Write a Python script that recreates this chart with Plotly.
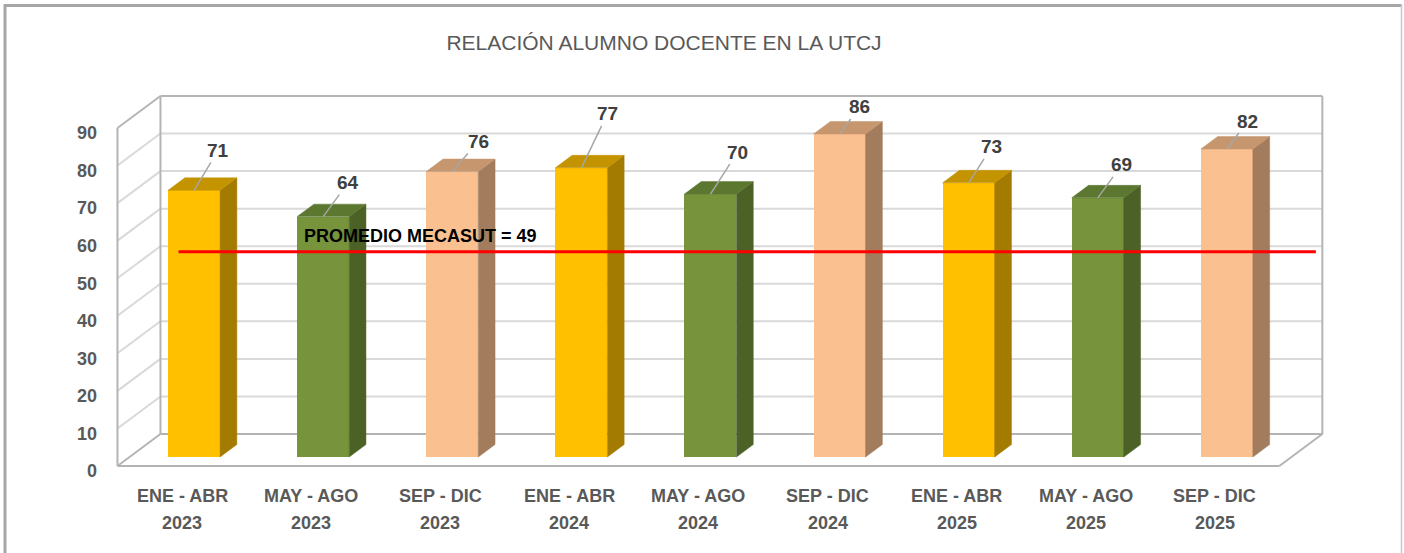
import plotly.graph_objects as go

# ---------------- data ----------------
PERIODS = ["ENE - ABR", "MAY - AGO", "SEP - DIC", "ENE - ABR", "MAY - AGO", "SEP - DIC",
           "ENE - ABR", "MAY - AGO", "SEP - DIC"]
YEARS = ["2023", "2023", "2023", "2024", "2024", "2024", "2025", "2025", "2025"]
VALUES = [71, 64, 76, 77, 70, 86, 73, 69, 82]
PROMEDIO = 49
Y_TICKS = [0, 10, 20, 30, 40, 50, 60, 70, 80, 90]
TITLE = "RELACIÓN ALUMNO DOCENTE EN LA UTCJ"
PROMEDIO_TEXT = "PROMEDIO MECASUT = 49"

# ---------------- styling / geometry ----------------
W, H = 1404, 553
PX_X0, PX_PER_CAT = 182.0, 129.1       # front plane, category 0 center
PY_Y0, PX_PER_VAL = 466.0, 3.756        # front plane, value 0
DX, DV = 43 / PX_PER_CAT, 32 / PX_PER_VAL   # full depth vector (data units)
TB = 0.281      # bar plane depth fraction
BD = 0.39       # bar depth fraction
HALF = 0.2014   # half bar width (category units)

FRONT = ["#FFC000", "#77933C", "#FAC090"]
TOP = ["#C39300", "#5C7730", "#C6966F"]
SIDE = ["#A37B00", "#4B6126", "#A27C5C"]
LABEL_OFFSETS = [(24, -40), (25, -34), (26, -30), (26, -54), (27, -42),
                 (20, -27), (23, -36), (24, -33), (21, -28)]

FONT = "Liberation Sans, Arial, sans-serif"
GRID = "#D9D9D9"
EDGE = "#B4B4B4"

xr = [(0 - PX_X0) / PX_PER_CAT, (W - PX_X0) / PX_PER_CAT]
yr = [(PY_Y0 - H) / PX_PER_VAL, PY_Y0 / PX_PER_VAL]

n = len(VALUES)
xl_wall, xr_wall = -0.5, n - 0.5
ymax = Y_TICKS[-1]

fig = go.Figure()

# ---------------- walls & gridlines (shapes, below) ----------------
shapes = []
def seg(x0, y0, x1, y1, color, width, layer="below"):
    shapes.append(dict(type="line", xref="x", yref="y", x0=x0, y0=y0, x1=x1, y1=y1,
                       line=dict(color=color, width=width), layer=layer))

for g in Y_TICKS:
    edge = g in (Y_TICKS[0], Y_TICKS[-1])
    seg(xl_wall + DX, g + DV, xr_wall + DX, g + DV, EDGE if edge else GRID, 2)
    seg(xl_wall, g, xl_wall + DX, g + DV, EDGE if edge else GRID, 2)
seg(xl_wall + DX, DV, xl_wall + DX, ymax + DV, EDGE, 2)
seg(xr_wall + DX, DV, xr_wall + DX, ymax + DV, EDGE, 2)
seg(xl_wall, 0, xl_wall, ymax, EDGE, 2)
seg(xl_wall, 0, xr_wall, 0, EDGE, 2)
seg(xr_wall, 0, xr_wall + DX, DV, EDGE, 2)

# chart border
shapes.append(dict(type="line", xref="paper", yref="paper", x0=5 / W, x1=1401 / W,
                   y0=1 - 5.5 / H, y1=1 - 5.5 / H, line=dict(color="#A6A6A6", width=3)))
shapes.append(dict(type="line", xref="paper", yref="paper", x0=5 / W, x1=5 / W,
                   y0=0, y1=1 - 4 / H, line=dict(color="#A6A6A6", width=3)))
shapes.append(dict(type="line", xref="paper", yref="paper", x0=1401.5 / W, x1=1401.5 / W,
                   y0=0, y1=1 - 4 / H, line=dict(color="#C8C8C8", width=1.5)))

# ---------------- bars ----------------
bx = [i + TB * DX for i in range(n)]
base = TB * DV
fig.add_trace(go.Bar(x=bx, y=VALUES, base=base, width=2 * HALF,
                     marker=dict(color=[FRONT[i % 3] for i in range(n)], line=dict(width=0)),
                     hoverinfo="skip", showlegend=False))

ddx, ddv = BD * DX, BD * DV
for i, v in enumerate(VALUES):
    x0, x1 = bx[i] - HALF, bx[i] + HALF
    y0, y1 = base, base + v
    fig.add_trace(go.Scatter(
        x=[x1, x1, x1 + ddx, x1 + ddx, x1], y=[y0, y1, y1 + ddv, y0 + ddv, y0],
        mode="lines", fill="toself", fillcolor=SIDE[i % 3],
        line=dict(color=SIDE[i % 3], width=0.5), hoverinfo="skip", showlegend=False))
    fig.add_trace(go.Scatter(
        x=[x0, x1, x1 + ddx, x0 + ddx, x0], y=[y1, y1, y1 + ddv, y1 + ddv, y1],
        mode="lines", fill="toself", fillcolor=TOP[i % 3],
        line=dict(color=TOP[i % 3], width=0.5), hoverinfo="skip", showlegend=False))

# ---------------- promedio line ----------------
fig.add_trace(go.Scatter(x=[xl_wall + 0.14 + DX, xr_wall - 0.05 + DX],
                         y=[PROMEDIO + DV - 0.5, PROMEDIO + DV - 0.5], mode="lines",
                         line=dict(color="#FF0000", width=3),
                         hoverinfo="skip", showlegend=False))

annotations = []
annotations.append(dict(x=1.85, y=PROMEDIO + DV, xref="x", yref="y", yshift=14,
                        text="<b>" + PROMEDIO_TEXT + "</b>", showarrow=False,
                        font=dict(family=FONT, size=18, color="#000000")))

for i, v in enumerate(VALUES):
    ax, ay = LABEL_OFFSETS[i]
    annotations.append(dict(x=bx[i], y=base + v, xref="x", yref="y",
                            text="<b>%d</b>" % v, showarrow=True, arrowhead=0,
                            arrowwidth=1.5, arrowcolor="#A6A6A6", ax=ax, ay=ay,
                            standoff=0, startstandoff=0,
                            font=dict(family=FONT, size=19, color="#404040")))

for i in range(n):
    annotations.append(dict(x=i, y=(PY_Y0 - 496) / PX_PER_VAL, xref="x", yref="y",
                            text="<b>" + PERIODS[i] + "</b>", showarrow=False,
                            font=dict(family=FONT, size=18, color="#595959")))
    annotations.append(dict(x=i, y=(PY_Y0 - 523) / PX_PER_VAL, xref="x", yref="y",
                            text="<b>" + YEARS[i] + "</b>", showarrow=False,
                            font=dict(family=FONT, size=18, color="#595959")))

fig.update_layout(
    width=W, height=H, margin=dict(l=0, r=0, t=0, b=0),
    paper_bgcolor="white", plot_bgcolor="white",
    shapes=shapes, annotations=annotations, showlegend=False,
    title=dict(text=TITLE, x=664 / W, xanchor="center", y=1 - 43 / H, yanchor="middle",
               xref="paper", yref="paper",
               font=dict(family=FONT, size=21, color="#595959")),
    xaxis=dict(range=xr, visible=False, showgrid=False, zeroline=False, fixedrange=True),
    yaxis=dict(range=yr, showgrid=False, zeroline=False, showline=False,
               anchor="free", position=97 / W, side="left",
               tickmode="array", tickvals=Y_TICKS, ticktext=["<b>%d</b>" % t for t in Y_TICKS],
               ticks="", ticklabelshift=5,
               tickfont=dict(family=FONT, size=18, color="#595959"),
               fixedrange=True),
    bargap=0,
)

fig.write_html("out.html", config={"displayModeBar": False},
               post_script="document.body.style.margin='0';document.body.style.overflow='hidden';")
